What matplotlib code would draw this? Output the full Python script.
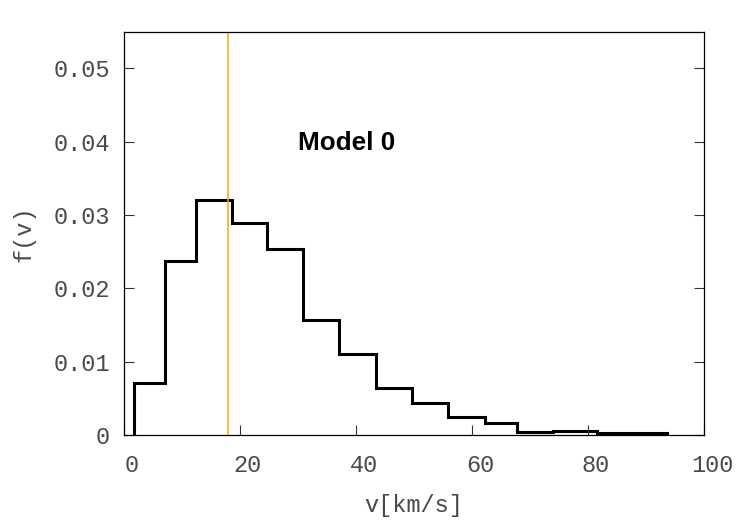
import numpy as np
import matplotlib
matplotlib.use("Agg")
import matplotlib.pyplot as plt
import matplotlib.transforms as mtransforms

# bin edges (km/s) and f(v) per bin
edges = [1.8, 7.0, 12.5, 18.7, 24.7, 30.8, 37.0, 43.5, 49.7,
         55.8, 62.2, 67.8, 74.0, 81.6, 88.0, 93.7]
fv = [0.0071, 0.0237, 0.0320, 0.0289, 0.0254, 0.0157, 0.0111, 0.0064,
      0.0044, 0.0025, 0.0016, 0.00045, 0.00058, 0.0003, 0.00023]
v_mark = 18.0

xticks = [0, 20, 40, 60, 80, 100]
xticklabels = ['0', '20', '40', '60', '80', '100']
yticks = [0, 0.01, 0.02, 0.03, 0.04, 0.05]
yticklabels = ['0', '0.01', '0.02', '0.03', '0.04', '0.05']

mono = 'Liberation Mono'
txt = '#4a4a4a'

fig = plt.figure(figsize=(7.5, 5.25), dpi=100)
ax = fig.add_axes([0.1653, 0.1714, 0.7734, 0.7682])

ax.stairs(fv, edges, baseline=0, color='black', linewidth=2.2)
ax.axvline(v_mark, color='#FFA500', linewidth=1.1)

ax.set_xlim(0, 100)
ax.set_ylim(0, 0.055)
ax.set_xticks(xticks)
ax.set_xticklabels(xticklabels, fontfamily=mono, fontsize=17, color=txt)
ax.set_yticks(yticks)
ax.set_yticklabels(yticklabels, fontfamily=mono, fontsize=17, color=txt)
ax.tick_params(direction='in', length=7, width=0.8, top=False, right=True,
               pad=10, colors='#333333', labelcolor=txt)
ax.tick_params(axis='x', pad=14)
# gnuplot puts the x labels a bit to the right of the ticks
shift = mtransforms.ScaledTranslation(0.08, 0, fig.dpi_scale_trans)
for lab in ax.get_xticklabels():
    lab.set_transform(lab.get_transform() + shift)
for s in ax.spines.values():
    s.set_linewidth(0.9)

ax.set_xlabel('v[km/s]', fontfamily=mono, fontsize=17, color=txt, labelpad=12)
ax.set_ylabel('f(v)', fontfamily=mono, fontsize=17, color=txt, labelpad=13)

ax.text(38.3, 0.0398, 'Model 0', fontfamily='Liberation Sans', fontweight='bold',
        fontsize=18.8, ha='center', va='center')

fig.savefig('out.png', dpi=100)
